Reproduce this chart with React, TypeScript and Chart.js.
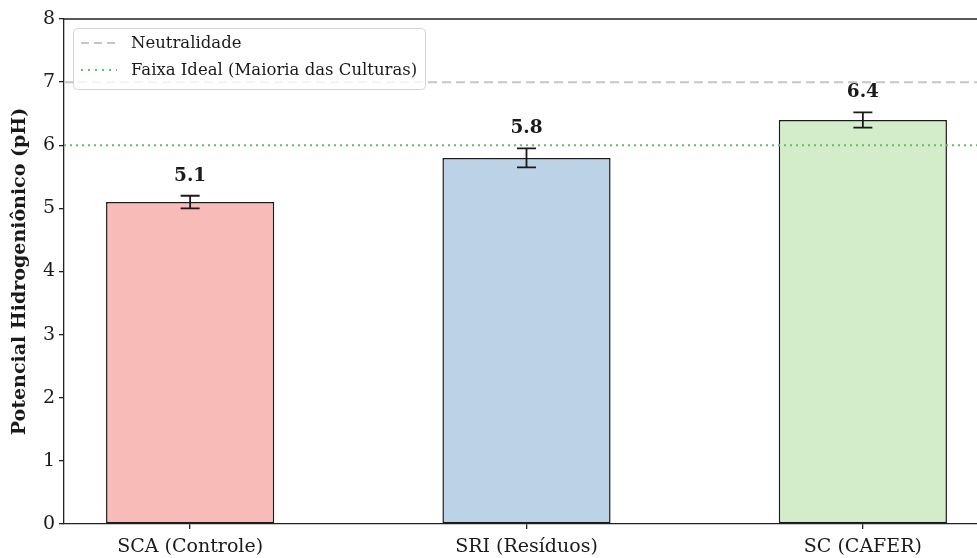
import { useEffect, useRef } from "react";
import { Chart, registerables } from "chart.js";

Chart.register(...registerables);

// Soil pH per management system
const categories = ["SCA (Controle)", "SRI (Resíduos)", "SC (CAFER)"];
const phValues = [5.1, 5.8, 6.4];
const phErrors = [0.1, 0.15, 0.12];
const barColors = ["#f8bbb7", "#bbd2e7", "#d3ecca"];
const yTicks = [0, 1, 2, 3, 4, 5, 6, 7, 8];

// Reference levels
const neutralLevel = 7;
const idealLevel = 6;
const legendLabels = ["Neutralidade", "Faixa Ideal (Maioria das Culturas)"];

const FONT = "'DejaVu Serif', 'Liberation Serif', serif";
const INK = "#1a1a1a";
const SPINE = "#222";
const NEUTRAL_COLOR = "#c6c6c6";
const IDEAL_COLOR = "#66bd66";

const overlayPlugin = {
  id: "overlay",
  afterDatasetsDraw(chart: any) {
    const { ctx, chartArea, scales } = chart;
    const x = scales.x;
    const y = scales.y;
    ctx.save();

    // top spine
    ctx.strokeStyle = SPINE;
    ctx.lineWidth = 1.3;
    ctx.beginPath();
    ctx.moveTo(chartArea.left, chartArea.top);
    ctx.lineTo(chartArea.right, chartArea.top);
    ctx.stroke();

    // reference lines
    const yn = y.getPixelForValue(neutralLevel);
    ctx.strokeStyle = NEUTRAL_COLOR;
    ctx.lineWidth = 2;
    ctx.setLineDash([9, 5]);
    ctx.beginPath();
    ctx.moveTo(chartArea.left, yn);
    ctx.lineTo(chartArea.right, yn);
    ctx.stroke();

    const yi = y.getPixelForValue(idealLevel);
    ctx.strokeStyle = IDEAL_COLOR;
    ctx.lineWidth = 2;
    ctx.setLineDash([2, 4]);
    ctx.beginPath();
    ctx.moveTo(chartArea.left, yi);
    ctx.lineTo(chartArea.right, yi);
    ctx.stroke();
    ctx.setLineDash([]);

    // error bars and value labels
    phValues.forEach((v, i) => {
      const cx = x.getPixelForValue(i);
      const top = y.getPixelForValue(v + phErrors[i]);
      const bot = y.getPixelForValue(v - phErrors[i]);
      ctx.strokeStyle = INK;
      ctx.lineWidth = 1.8;
      ctx.beginPath();
      ctx.moveTo(cx, top);
      ctx.lineTo(cx, bot);
      ctx.moveTo(cx - 9.5, top);
      ctx.lineTo(cx + 9.5, top);
      ctx.moveTo(cx - 9.5, bot);
      ctx.lineTo(cx + 9.5, bot);
      ctx.stroke();

      ctx.fillStyle = INK;
      ctx.font = `bold 18.5px ${FONT}`;
      ctx.textAlign = "center";
      ctx.textBaseline = "alphabetic";
      ctx.fillText(v.toFixed(1), cx, y.getPixelForValue(v + phErrors[i] + 0.24));
    });

    // legend
    const lx = chartArea.left + 9;
    const ly = chartArea.top + 9;
    const lw = 352;
    const lh = 61;
    ctx.fillStyle = "rgba(255,255,255,0.8)";
    ctx.strokeStyle = "#d4d4d4";
    ctx.lineWidth = 1;
    ctx.beginPath();
    ctx.roundRect(lx + 0.5, ly + 0.5, lw, lh, 4);
    ctx.fill();
    ctx.stroke();

    const rows = [
      { color: NEUTRAL_COLOR, dash: [8, 5] },
      { color: IDEAL_COLOR, dash: [2, 5] },
    ];
    rows.forEach((r, k) => {
      const ry = ly + 15 + k * 27;
      ctx.strokeStyle = r.color;
      ctx.lineWidth = 2;
      ctx.setLineDash(r.dash);
      ctx.beginPath();
      ctx.moveTo(lx + 8, ry);
      ctx.lineTo(lx + 44, ry);
      ctx.stroke();
      ctx.setLineDash([]);
      ctx.fillStyle = INK;
      ctx.font = `16.5px ${FONT}`;
      ctx.textAlign = "left";
      ctx.textBaseline = "middle";
      ctx.fillText(legendLabels[k], lx + 58, ry + 1);
    });

    ctx.restore();
  },
};

export default function App() {
  const canvasRef = useRef<HTMLCanvasElement | null>(null);

  useEffect(() => {
    document.body.style.margin = "0";
    const canvas = canvasRef.current;
    if (!canvas) return;

    const chart = new Chart(canvas, {
      type: "bar",
      data: {
        datasets: [
          {
            data: phValues.map((v, i) => ({ x: i, y: v })),
            backgroundColor: barColors,
            borderColor: INK,
            borderWidth: 1.5,
            borderSkipped: false,
            categoryPercentage: 1,
            barPercentage: 0.5,
          },
        ],
      },
      options: {
        responsive: false,
        animation: false,
        layout: { padding: { top: 19, right: 11, left: 0, bottom: 0 } },
        plugins: {
          legend: { display: false },
          tooltip: { enabled: false },
        },
        scales: {
          x: {
            type: "linear",
            offset: false,
            min: -0.375,
            max: 2.375,
            afterBuildTicks: (s: any) => {
              s.ticks = categories.map((_, i) => ({ value: i }));
            },
            afterFit: (s: any) => {
              s.height = 34;
            },
            ticks: {
              callback: (v: any) => categories[v as number] ?? "",
              font: { family: FONT, size: 19 },
              color: INK,
              padding: 7,
              autoSkip: false,
              maxRotation: 0,
            },
            grid: {
              offset: false,
              drawOnChartArea: false,
              drawTicks: true,
              tickLength: 5,
              color: SPINE,
              lineWidth: 1.3,
            },
            border: { color: SPINE, width: 1.3 },
          },
          y: {
            min: 0,
            max: 8,
            afterBuildTicks: (s: any) => {
              s.ticks = yTicks.map((v) => ({ value: v }));
            },
            afterFit: (s: any) => {
              s.width = 64;
            },
            ticks: {
              font: { family: FONT, size: 19 },
              color: INK,
              padding: 4,
            },
            grid: {
              drawOnChartArea: false,
              drawTicks: true,
              tickLength: 5,
              color: SPINE,
              lineWidth: 1.3,
            },
            border: { color: SPINE, width: 1.3 },
            title: {
              display: true,
              text: "Potencial Hidrogeniônico (pH)",
              font: { family: FONT, size: 19, weight: "bold" },
              color: INK,
              padding: { top: 9, bottom: 0 },
            },
          },
        },
      },
      plugins: [overlayPlugin],
    } as any);

    return () => chart.destroy();
  }, []);

  return (
    <div style={{ width: 977, height: 558, overflow: "hidden", position: "relative" }}>
      <canvas ref={canvasRef} width={1000} height={558} style={{ display: "block" }} />
    </div>
  );
}
